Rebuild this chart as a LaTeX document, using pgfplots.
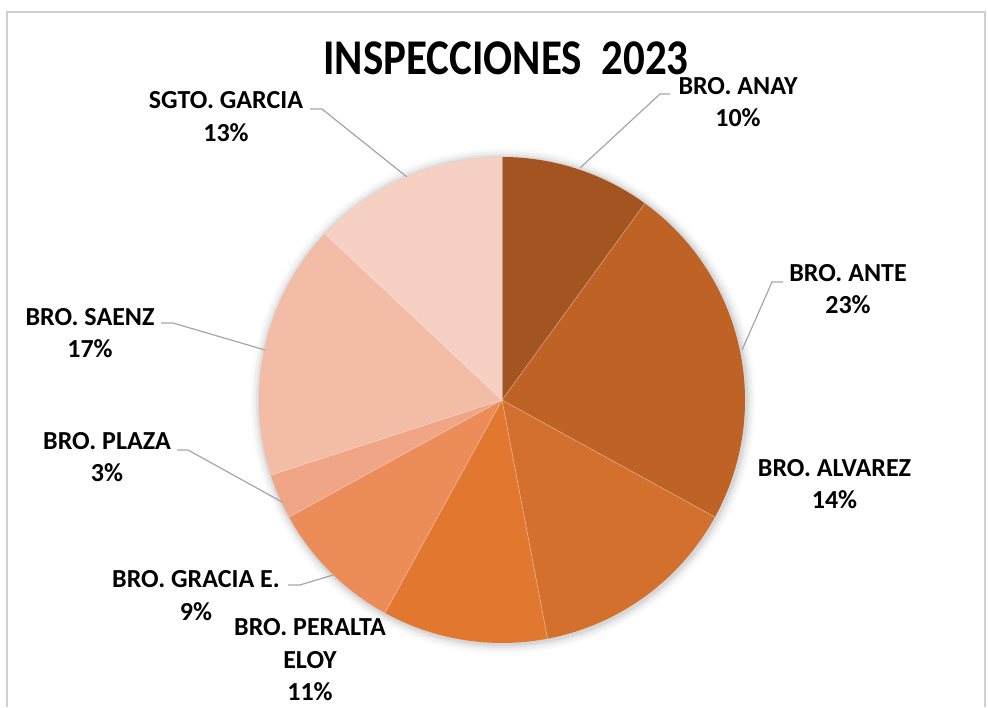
\documentclass[border=0pt]{standalone}
\usepackage{pgfplots}
\pgfplotsset{compat=1.18}
\usepackage{graphicx}
\usepackage{fontspec}
\setmainfont{Carlito}
\definecolor{cA}{HTML}{A35420}
\definecolor{cB}{HTML}{BE6226}
\definecolor{cC}{HTML}{D4702D}
\definecolor{cD}{HTML}{E27830}
\definecolor{cE}{HTML}{EC8C58}
\definecolor{cF}{HTML}{EFA586}
\definecolor{cG}{HTML}{F2BCA7}
\definecolor{cH}{HTML}{F5D0C3}
\definecolor{leader}{HTML}{A6A6A6}
\definecolor{frame}{HTML}{D0D0D0}
\newcommand\lab{\fontsize{19.5pt}{24pt}\selectfont\bfseries}
\begin{document}
\begin{tikzpicture}
\begin{axis}[scale only axis, width=741pt, height=530.25pt,
  xmin=0, xmax=988, ymin=0, ymax=707, hide axis, clip=false]
% frame
\draw[frame, line width=1.2pt] (axis cs:7,0) -- (axis cs:7,695) -- (axis cs:985,695) -- (axis cs:985,0);
% soft shadow
\pgfplotsextra{
  \foreach \r/\o in {7/0.025,5/0.035,3/0.05,1.5/0.06}{
    \fill[black, opacity=\o] (axis cs:503,306) circle[radius=182.25pt+\r pt];
  }
}
% pie slices (percentages, clockwise from top)
\pgfplotsextra{
  \gdef\acc{0}
  \foreach \v/\c in {10/cA,23/cB,14/cC,11/cD,9/cE,3/cF,17/cG,13/cH}{
    \pgfmathsetmacro\sa{90-3.6*\acc}
    \pgfmathsetmacro\ea{90-3.6*(\acc+\v)}
    \fill[\c] (axis cs:502,307) -- ++(\sa:182.25pt) arc[start angle=\sa, end angle=\ea, radius=182.25pt] -- cycle;
    \pgfmathsetmacro\nacc{\acc+\v}
    \global\let\acc\nacc
  }
  \gdef\acc{0}
  \foreach \v in {10,23,14,11,9,3,17,13}{
    \pgfmathsetmacro\sa{90-3.6*\acc}
    \draw[white, draw opacity=0.35, line width=0.5pt] (axis cs:502,307) -- ++(\sa:182.25pt);
    \pgfmathsetmacro\nacc{\acc+\v}
    \global\let\acc\nacc
  }
}
% title
\node[anchor=base] at (axis cs:506,632) {\scalebox{0.86}[1]{\fontsize{37.5pt}{45pt}\selectfont\bfseries INSPECCIONES\ \ 2023}};
% leader lines
\draw[leader, line width=0.9pt] (axis cs:310,598) -- (axis cs:322,598) -- (axis cs:407,530);
\draw[leader, line width=0.9pt] (axis cs:670,613) -- (axis cs:660,613) -- (axis cs:580,539);
\draw[leader, line width=0.9pt] (axis cs:783,425) -- (axis cs:772,425) -- (axis cs:742,357);
\draw[leader, line width=0.9pt] (axis cs:161,384) -- (axis cs:173,384) -- (axis cs:265,357);
\draw[leader, line width=0.9pt] (axis cs:177,257) -- (axis cs:188,257) -- (axis cs:282,205);
\draw[leader, line width=0.9pt] (axis cs:288,122) -- (axis cs:300,122) -- (axis cs:333,132);
% labels
\node[anchor=base] at (axis cs:226,598) {\lab SGTO. GARCIA};
\node[anchor=base] at (axis cs:226,565) {\lab 13\%};
\node[anchor=base] at (axis cs:738,612) {\lab BRO. ANAY};
\node[anchor=base] at (axis cs:738,580) {\lab 10\%};
\node[anchor=base] at (axis cs:848,425) {\lab BRO. ANTE};
\node[anchor=base] at (axis cs:848,393) {\lab 23\%};
\node[anchor=base] at (axis cs:834.5,230) {\lab BRO. ALVAREZ};
\node[anchor=base] at (axis cs:834.5,199) {\lab 14\%};
\node[anchor=base] at (axis cs:310,72) {\lab BRO. PERALTA};
\node[anchor=base] at (axis cs:310,39) {\lab ELOY};
\node[anchor=base] at (axis cs:310,7) {\lab 11\%};
\node[anchor=base] at (axis cs:196,120) {\lab BRO. GRACIA E.};
\node[anchor=base] at (axis cs:196,87) {\lab 9\%};
\node[anchor=base] at (axis cs:107,257) {\lab BRO. PLAZA};
\node[anchor=base] at (axis cs:107,225) {\lab 3\%};
\node[anchor=base] at (axis cs:90,381) {\lab BRO. SAENZ};
\node[anchor=base] at (axis cs:90,349) {\lab 17\%};
\end{axis}
\pgfresetboundingbox
\useasboundingbox (current axis.south west) rectangle (current axis.north east);
\end{tikzpicture}
\end{document}
